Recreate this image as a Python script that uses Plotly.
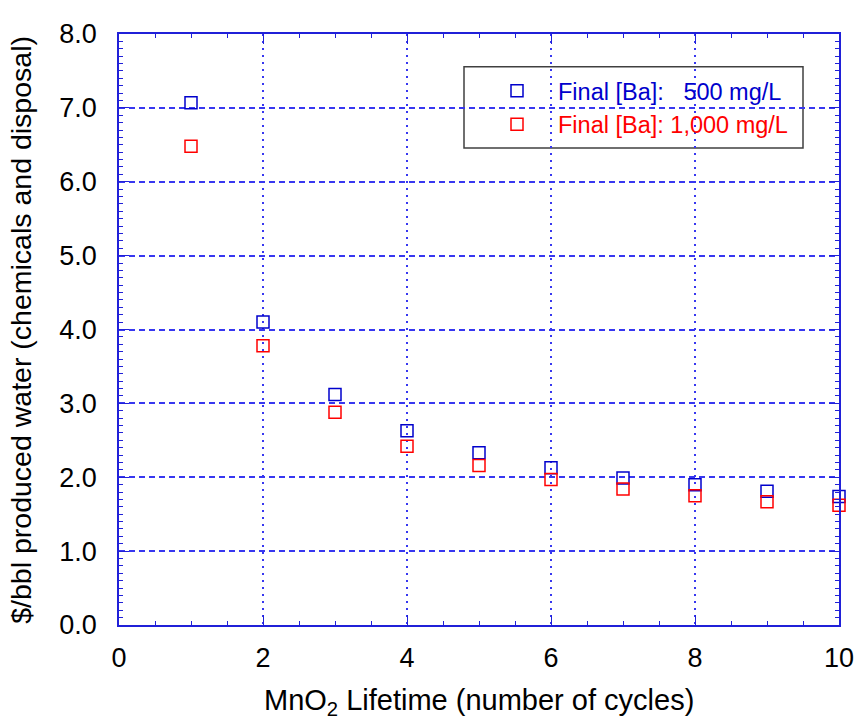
import plotly.graph_objects as go

cycles = [1, 2, 3, 4, 5, 6, 7, 8, 9, 10]
cost_500 = [7.07, 4.10, 3.12, 2.63, 2.33, 2.13, 1.99, 1.90, 1.81, 1.74]
cost_1000 = [6.48, 3.78, 2.88, 2.42, 2.16, 1.97, 1.84, 1.75, 1.67, 1.62]
name_500 = "Final [Ba]:   500 mg/L"
name_1000 = "Final [Ba]: 1,000 mg/L"
x_title = "MnO<sub>2</sub> Lifetime (number of cycles)"
y_title = "$/bbl produced water (chemicals and disposal)"
x_ticks = [0, 2, 4, 6, 8, 10]
y_ticks = [0, 1, 2, 3, 4, 5, 6, 7, 8]

BLUE = "#0000cc"
RED = "#ff0000"
AXIS = "rgb(32,32,216)"
GRID = "rgb(55,55,240)"
FONT = "Liberation Sans, Arial, sans-serif"

W, H = 857, 726
L, R, T, B = 119, 839, 34, 625.5          # plot area in page px
PW, PH = R - L, B - T


def px(xs):
    return (xs - L) / PW


def py(ys):
    return (B - ys) / PH


fig = go.Figure()
fig.add_trace(go.Scatter(
    x=cycles, y=cost_500, mode="markers", cliponaxis=False,
    name=f"<span style='color:{BLUE}'>{name_500.replace(' ', '&nbsp;')}</span>",
    marker=dict(symbol="square-open", size=12, color=BLUE, line=dict(width=1.5, color=BLUE)),
))
fig.add_trace(go.Scatter(
    x=cycles, y=cost_1000, mode="markers", cliponaxis=False,
    name=f"<span style='color:{RED}'>{name_1000.replace(' ', '&nbsp;')}</span>",
    marker=dict(symbol="square-open", size=12, color=RED, line=dict(width=1.5, color=RED)),
))

box_l, box_r, box_t, box_b = 464, 803, 66.7, 148

fig.update_layout(
    width=W, height=H,
    margin=dict(l=L, r=W - R, t=T, b=H - B, autoexpand=False),
    paper_bgcolor="white", plot_bgcolor="white",
    font=dict(family=FONT, size=27, color="black"),
    showlegend=True,
    legend=dict(
        x=px(box_l + 12), y=py(69), xanchor="left", yanchor="top",
        bgcolor="rgba(0,0,0,0)", borderwidth=0,
        font=dict(family=FONT, size=23.5),
        itemwidth=72, tracegroupgap=0,
    ),
    shapes=[dict(
        type="rect", xref="paper", yref="paper",
        x0=px(box_l), x1=px(box_r), y0=py(box_b), y1=py(box_t),
        line=dict(color="#404040", width=1.5), fillcolor="white", layer="below",
    )],
    annotations=[
        dict(text=x_title, xref="paper", yref="paper", x=px(479), y=py(703),
             xanchor="center", yanchor="middle", showarrow=False,
             font=dict(family=FONT, size=29, color="black")),
        dict(text=y_title, xref="paper", yref="paper", x=px(21), y=py(330),
             xanchor="center", yanchor="middle", showarrow=False, textangle=-90,
             font=dict(family=FONT, size=28.5, color="black")),
    ],
)

fig.update_xaxes(
    range=[0, 10], tickvals=x_ticks, ticktext=[str(v) for v in x_ticks],
    showline=True, linecolor=AXIS, linewidth=1.5, mirror="ticks",
    ticks="inside", ticklen=10, tickcolor=AXIS, tickwidth=1,
    showgrid=True, gridcolor=GRID, gridwidth=1.5, griddash="2px,5px",
    zeroline=False, ticklabelstandoff=8, automargin=False,
    tickfont=dict(size=27),
    minor=dict(dtick=0.5, ticks="inside", ticklen=4, tickcolor=AXIS, showgrid=False),
)
fig.update_yaxes(
    range=[0, 8], tickvals=y_ticks, ticktext=[f"{v:.1f}" for v in y_ticks],
    showline=True, linecolor=AXIS, linewidth=1.5, mirror="ticks",
    ticks="inside", ticklen=10, tickcolor=AXIS, tickwidth=1,
    showgrid=True, gridcolor=GRID, gridwidth=1.5, griddash="6px,4px",
    zeroline=False, ticklabelstandoff=15, automargin=False,
    tickfont=dict(size=27),
    minor=dict(dtick=0.1, ticks="inside", ticklen=4, tickcolor=AXIS, showgrid=False),
)

fig.write_html(
    "out.html",
    config={"displayModeBar": False},
    post_script="document.body.style.margin='0px';document.body.style.overflow='hidden';",
)
